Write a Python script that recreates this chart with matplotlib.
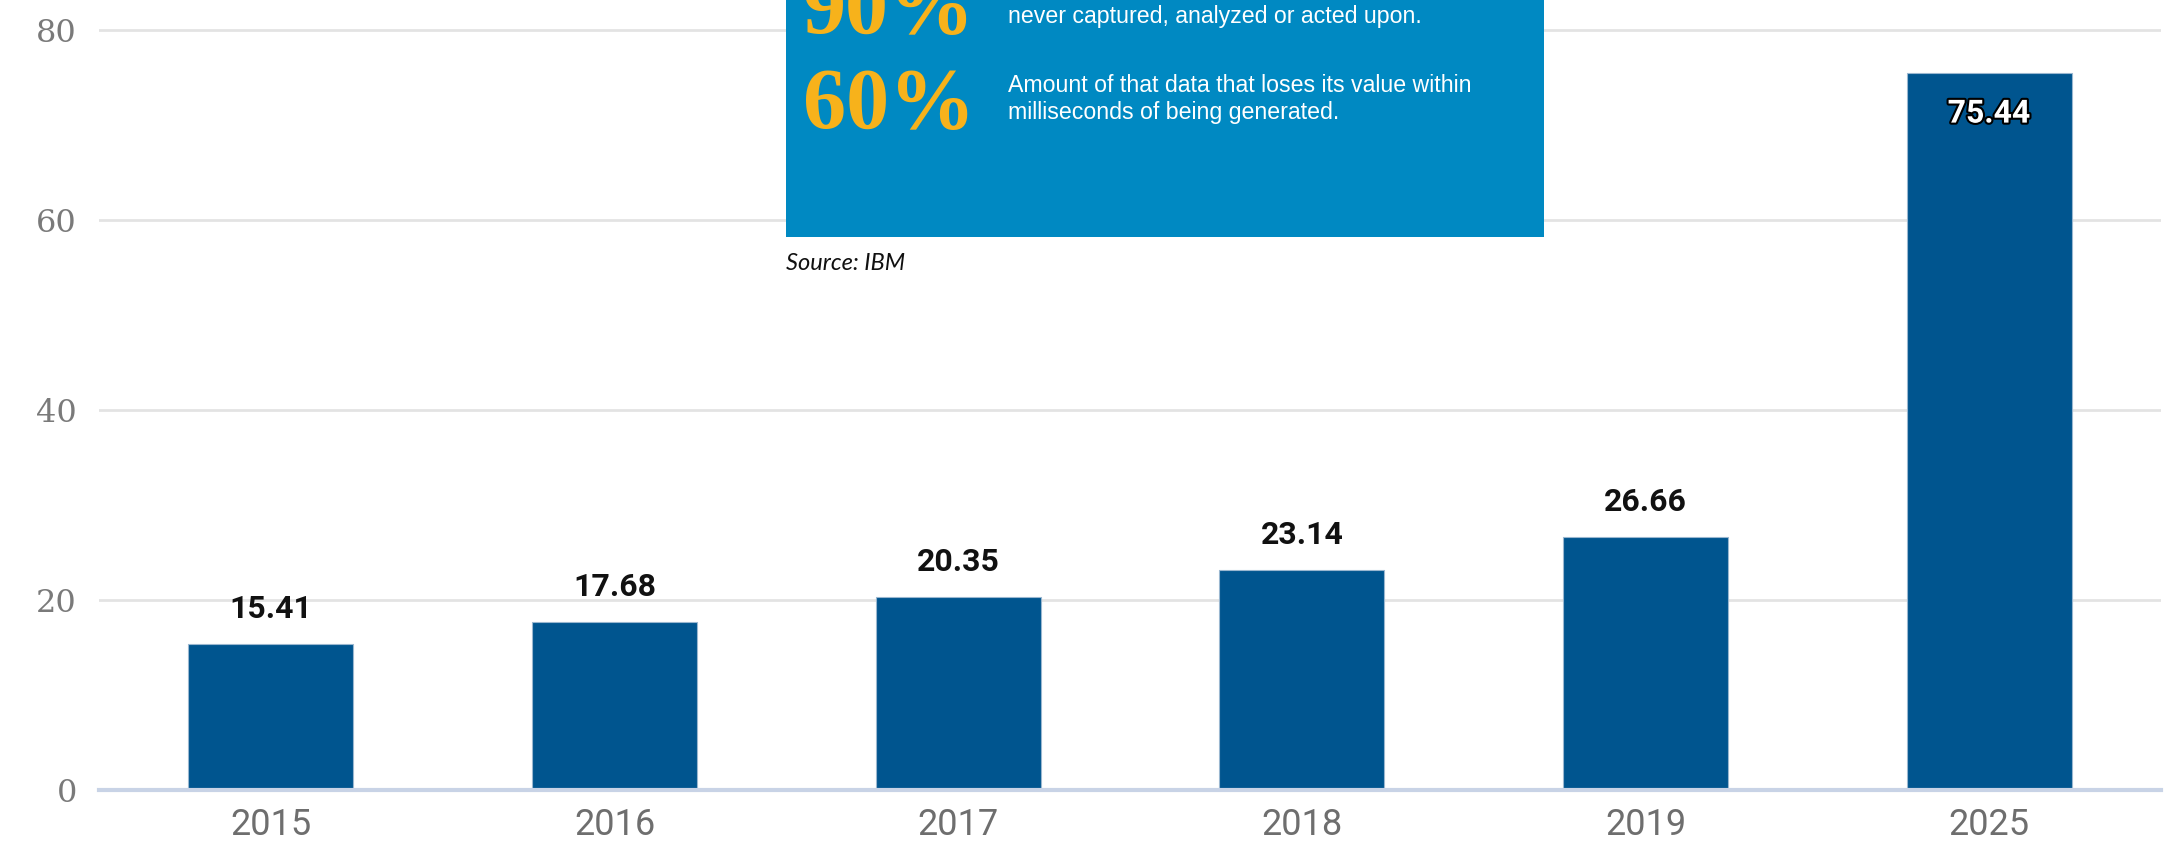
import matplotlib
matplotlib.use("Agg")
import matplotlib.pyplot as plt
from matplotlib.patches import Rectangle
import matplotlib.patheffects as pe

# --- data ---
years = ["2015", "2016", "2017", "2018", "2019", "2025"]
values = [15.41, 17.68, 20.35, 23.14, 26.66, 75.44]
y_ticks = [0, 20, 40, 60, 80]

box_lines_90 = ["never captured, analyzed or acted upon."]
box_lines_60 = ["Amount of that data that loses its value within",
                "milliseconds of being generated."]

W, H = 2165, 842
fig = plt.figure(figsize=(W / 100, H / 100), dpi=100)
fig.patch.set_facecolor("white")

# axes placed in pixel terms: zero line at y=790, 80 at y=30
ax = fig.add_axes([99 / W, 1 - 790 / H, (2161 - 99) / W, 790 / H])
ax.set_xlim(-0.5, 5.5)
ax.set_ylim(0, 790 / 9.5)

x = range(len(years))
ax.bar(x, values, width=0.48, color="#00558f", edgecolor="#9ab7d0",
       linewidth=0.8, zorder=3)

ax.set_yticks(y_ticks)
ax.set_yticklabels([str(t) for t in y_ticks], family="DejaVu Serif",
                   fontsize=23, color="#7a7a7a")
ax.set_xticks(list(x))
ax.set_xticklabels(years, family="Roboto", fontsize=26, color="#6e6e6e")
ax.tick_params(axis="y", length=0, pad=16)
ax.tick_params(axis="x", length=0, pad=12)

for s in ax.spines.values():
    s.set_visible(False)
ax.grid(axis="y", color="#e3e3e3", linewidth=2, zorder=0)
ax.set_axisbelow(True)
ax.axhline(0, color="#c8d3e6", linewidth=3, zorder=4, clip_on=False)

# value labels
for i, v in enumerate(values):
    if v > 60:
        t = ax.annotate(f"{v:.2f}", (i, v), xytext=(0, -29),
                        textcoords="offset points", ha="center", va="center",
                        family="Roboto", fontweight="bold", fontsize=23,
                        color="white", zorder=5)
        t.set_path_effects([pe.withStroke(linewidth=3, foreground="black")])
    else:
        ax.annotate(f"{v:.2f}", (i, v), xytext=(0, 25),
                    textcoords="offset points", ha="center", va="center",
                    family="Roboto", fontweight="bold", fontsize=23,
                    color="#111111", zorder=5)

# IBM info box pasted over the top of the chart
fig.add_artist(Rectangle((786 / W, 1 - 237 / H), (1544 - 786) / W, 237 / H,
                         transform=fig.transFigure, facecolor="#0089c2",
                         edgecolor="none", zorder=6))
fig.text(803 / W, 1 - 33 / H, "90%", family="Liberation Serif",
         fontweight="bold", fontsize=62, color="#f7b21b", va="baseline",
         zorder=7)
fig.text(803 / W, 1 - 128 / H, "60%", family="Liberation Serif",
         fontweight="bold", fontsize=62, color="#f7b21b", va="baseline",
         zorder=7)
fig.text(1008 / W, 1 - 17 / H, box_lines_90[0], family="Liberation Sans",
         fontsize=16.7, color="white", va="center", zorder=7)
for k, line in enumerate(box_lines_60):
    fig.text(1008 / W, 1 - (85 + 27.5 * k) / H, line,
             family="Liberation Sans", fontsize=16.7, color="white",
             va="center", zorder=7)

fig.text(786 / W, 1 - 264 / H, "Source: IBM", family="Lato", style="italic",
         fontsize=17, color="#111111", va="center", zorder=7)

fig.savefig("out.png", dpi=100)
